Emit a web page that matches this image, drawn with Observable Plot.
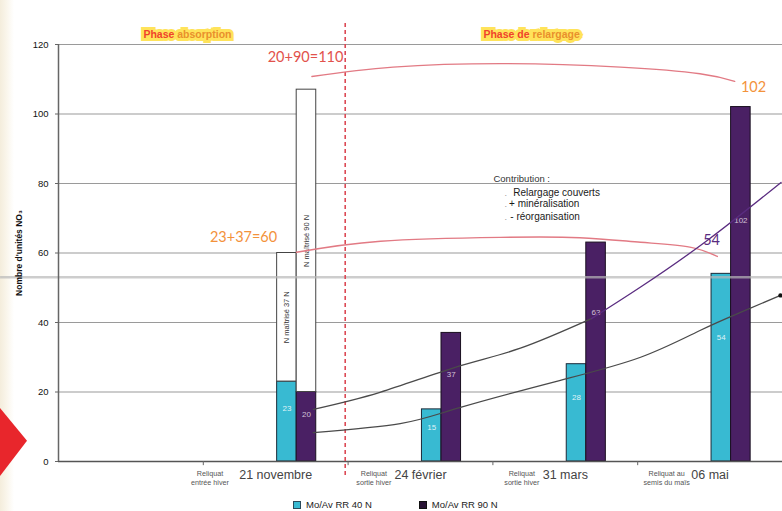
<!DOCTYPE html>
<html>
<head>
<meta charset="utf-8">
<script src="https://cdn.jsdelivr.net/npm/d3@7"></script>
<script src="https://cdn.jsdelivr.net/npm/@observablehq/plot@0.6"></script>
<style>
  body { margin: 0; background: #fff; font-family: "Liberation Sans", Arial, sans-serif; }
  #wrap { position: relative; width: 782px; height: 511px; overflow: hidden;
          background: linear-gradient(to right, #f4eddc 0px, #faf6ec 7px, #ffffff 14px); }
  #arrow { position: absolute; left: 0; top: 408px; width: 27px; height: 68px; background: #e8262c;
           clip-path: polygon(0 0, 100% 48%, 0 100%); }
  #legend { position: absolute; top: 499px; left: 293px; font-size: 9.5px; color: #222;
            display: flex; align-items: center; white-space: nowrap; }
  #legend .sw { display: inline-block; width: 6px; height: 6px; margin-right: 5px; }
  #chart svg { display: block; }
</style>
</head>
<body>
<div id="wrap">
  <div id="chart"></div>
  <div id="arrow"></div>
  <div id="legend">
    <span class="sw" style="background:#38bad2;border:1px solid #2a4a5a"></span><span>Mo/Av RR 40 N</span>
    <span class="sw" style="background:#2a1436;border:1px solid #111;margin-left:47px"></span><span>Mo/Av RR 90 N</span>
  </div>
</div>
<script>
// ---------- data ----------
const categories = ["21 novembre", "24 février", "31 mars", "06 mai"];
const rr40 = [23, 15, 28, 54];            // Mo/Av RR 40 N
const rr90 = [20, 37, 63, 102];           // Mo/Av RR 90 N
const maitrise40 = [37];                  // N maîtrisé on top of 21 novembre (40 N)
const maitrise90 = [87];                  // N maîtrisé on top of 21 novembre (90 N)
const reliquatLabels = ["Reliquat\nentrée hiver", "Reliquat\nsortie hiver", "Reliquat\nsortie hiver", "Reliquat au\nsemis du maïs"];
const yTicks = [0, 20, 40, 60, 80, 100, 120];

// curves (x in category-slot units, y in N units)
const arcTop = [[1.75,110.8],[2.31,113.5],[3.1,114.5],[3.88,113.5],[4.43,111.6],[4.67,109.4]];
const arcMid = [[1.644,60.2],[2.224,63.4],[3.05,64.5],[3.6,64.4],[4.02,63.1],[4.36,61.7],[4.55,59.0]];
const trendUpperGray = [[1.76,15.0],[2.22,19.9],[2.74,27.1],[3.19,32.6],[3.68,41.1]];
const trendUpperPurple = [[3.68,41.1],[4.02,50.2],[4.48,63.6],[4.99,80.3]];
const trendLower = [[1.76,8.3],[2.36,10.9],[2.77,15.5],[3.46,23.3],[4.02,30.0],[4.43,37.7],[4.71,42.9],[4.986,47.8]];

const annotations = [
  {text: "20+90=110", x: 1.706, y: 116.3, color: "#e2524c"},
  {text: "102",       x: 4.80,  y: 107.6, color: "#f3923b"},
  {text: "23+37=60",  x: 1.278, y: 64.5,  color: "#f3923b"},
  {text: "54",        x: 4.51,  y: 63.6,  color: "#5a2c80"}
];
const contribution = [
  {text: "Relargage couverts", x: 3.14,  y: 77.3},
  {text: "+ minéralisation",   x: 3.112, y: 74.2},
  {text: "- réorganisation",   x: 3.12,  y: 70.3}
];
const phaseSplit = 1.98;

// ---------- derived ----------
const cyan = "#38bad2", purple = "#4a2064";
const c40 = [0.51, 0.645], c90 = [0.645, 0.78];
const bars40 = categories.map((c, i) => ({k: i + 1, v: rr40[i]}));
const bars90 = categories.map((c, i) => ({k: i + 1, v: rr90[i]}));
const stack40 = maitrise40.map((v, i) => ({k: i + 1, y1: rr40[i], y2: rr40[i] + v, label: `N maîtrisé ${v} N`}));
const stack90 = [{k: 1, y1: rr90[0], y2: rr90[0] + maitrise90[0], label: "N maîtrisé 90 N"}];
const reliquatDx = [0.046, 0.178, 0.2, 0.2];
const toPts = a => a.map(([x, y]) => ({x, y}));
const phaseStyle = {y: 120, dy: -10, fontSize: 10.5, fontWeight: "bold", stroke: "#ffe35a", strokeWidth: 6, strokeLinejoin: "miter", paintOrder: "stroke"};

const plot = Plot.plot({
  width: 782, height: 511,
  marginLeft: 58, marginRight: 0, marginTop: 44, marginBottom: 50,
  x: {domain: [0, 5], axis: null},
  y: {domain: [0, 120], axis: null},
  style: {background: "transparent", fontFamily: "'Liberation Sans', Arial, sans-serif", color: "#222", overflow: "visible"},
  marks: [
    Plot.gridY(yTicks.slice(1), {stroke: "#9a9a9a", strokeOpacity: 1, strokeWidth: 1.2}),
    // bars
    Plot.rect(bars40, {x1: d => d.k + c40[0], x2: d => d.k + c40[1], y1: 0, y2: "v", fill: cyan, stroke: "#1c2a38", strokeWidth: 1}),
    Plot.rect(bars90, {x1: d => d.k + c90[0], x2: d => d.k + c90[1], y1: 0, y2: "v", fill: purple, stroke: "#1a1020", strokeWidth: 1}),
    Plot.rect(stack40, {x1: d => d.k + c40[0], x2: d => d.k + c40[1], y1: "y1", y2: "y2", fill: "#fff", stroke: "#444", strokeWidth: 1}),
    Plot.rect(stack90, {x1: d => d.k + c90[0], x2: d => d.k + c90[1], y1: "y1", y2: "y2", fill: "#fff", stroke: "#444", strokeWidth: 1}),
    Plot.text(stack40, {x: d => d.k + (c40[0] + c40[1]) / 2, y: d => (d.y1 + d.y2) / 2, text: "label", rotate: -90, fontSize: 7.5, fill: "#333"}),
    Plot.text(stack90, {x: d => d.k + (c90[0] + c90[1]) / 2, y: d => (d.y1 + d.y2) / 2, text: "label", rotate: -90, fontSize: 7.5, fill: "#333"}),
    // value labels inside bars
    Plot.text(bars40, {x: d => d.k + (c40[0] + c40[1]) / 2, y: d => d.v * 0.66, text: d => String(d.v), fill: "#fff", fillOpacity: 0.85, fontSize: 8}),
    Plot.text(bars90, {x: d => d.k + (c90[0] + c90[1]) / 2, y: d => d.v * 0.68, text: d => String(d.v), fill: "#f3e6f3", fillOpacity: 0.8, fontSize: 8}),
    // scan artifact band
    Plot.ruleY([53], {x1: -0.4, x2: 5, stroke: "#b8b8b8", strokeWidth: 2.5, strokeOpacity: 0.7}),
    // axes
    Plot.ruleY([0], {x1: 0, x2: 5, stroke: "#555", strokeWidth: 1.3}),
    Plot.ruleX([0], {y1: 0, y2: 120, stroke: "#666", strokeWidth: 1.5}),
    Plot.ruleX([1, 2, 3, 4], {y1: -1.2, y2: 0, stroke: "#666"}),
    Plot.axisY(yTicks, {tickSize: 3, tickPadding: 7, fontSize: 9.5, fill: "#111", stroke: "#666"}),
    Plot.text(["Nombre d'unités NO₃"], {frameAnchor: "left", textAnchor: "middle", dx: -39, rotate: -90, fontSize: 8.5, fontWeight: "bold", fill: "#111"}),
    Plot.text(categories, {x: (d, i) => i + 1.5, y: 0, dy: 13, fontSize: 12.5, fill: "#444"}),
    Plot.text(reliquatLabels, {x: (d, i) => i + 1 + reliquatDx[i], y: 0, dy: 16, fontSize: 7.2, lineHeight: 1.35, fill: "#555"}),
    // phase separator
    Plot.ruleX([phaseSplit], {y1: -4, y2: 126.5, stroke: "#dc4a55", strokeWidth: 1.6, strokeDasharray: "4,3"}),
    // phase labels
    Plot.text(["Phase"], {...phaseStyle, x: 0.80, textAnchor: "end", fill: "#f0432a"}),
    Plot.text([" absorption"], {...phaseStyle, x: 0.80, textAnchor: "start", fill: "#e9902c"}),
    Plot.text(["Phase de"], {...phaseStyle, x: 3.253, textAnchor: "end", fill: "#f0432a"}),
    Plot.text([" relargage"], {...phaseStyle, x: 3.253, textAnchor: "start", fill: "#e9902c"}),
    // curves
    Plot.line(toPts(arcTop), {x: "x", y: "y", curve: "natural", stroke: "#e27a84", strokeWidth: 1.4}),
    Plot.line(toPts(arcMid), {x: "x", y: "y", curve: "natural", stroke: "#e27a84", strokeWidth: 1.4}),
    Plot.line(toPts(trendUpperGray), {x: "x", y: "y", curve: "natural", stroke: "#4a4a4a", strokeWidth: 1.3}),
    Plot.line(toPts(trendUpperPurple), {x: "x", y: "y", curve: "natural", stroke: "#5a2c80", strokeWidth: 1.3}),
    Plot.line(toPts(trendLower), {x: "x", y: "y", curve: "natural", stroke: "#4a4a4a", strokeWidth: 1.3}),
    Plot.dot([trendLower[trendLower.length - 1]], {x: d => d[0], y: d => d[1], r: 2.2, fill: "#111"}),
    // annotations
    Plot.text(annotations, {x: "x", y: "y", text: "text", fill: d => d.color, fontSize: 14.5, fontFamily: "Lato, 'Open Sans', sans-serif"}),
    Plot.text(["Contribution :"], {x: 3.004, y: 81.4, textAnchor: "start", fontSize: 9.5, fill: "#333"}),
    Plot.text(contribution, {x: "x", y: "y", text: "text", textAnchor: "start", fontSize: 10, fill: "#1a1a1a"}),
    Plot.text(contribution, {x: 3.08, y: "y", text: () => ".", textAnchor: "start", fontSize: 9, fill: "#999"})
  ]
});
document.getElementById("chart").appendChild(plot);
</script>
</body>
</html>
